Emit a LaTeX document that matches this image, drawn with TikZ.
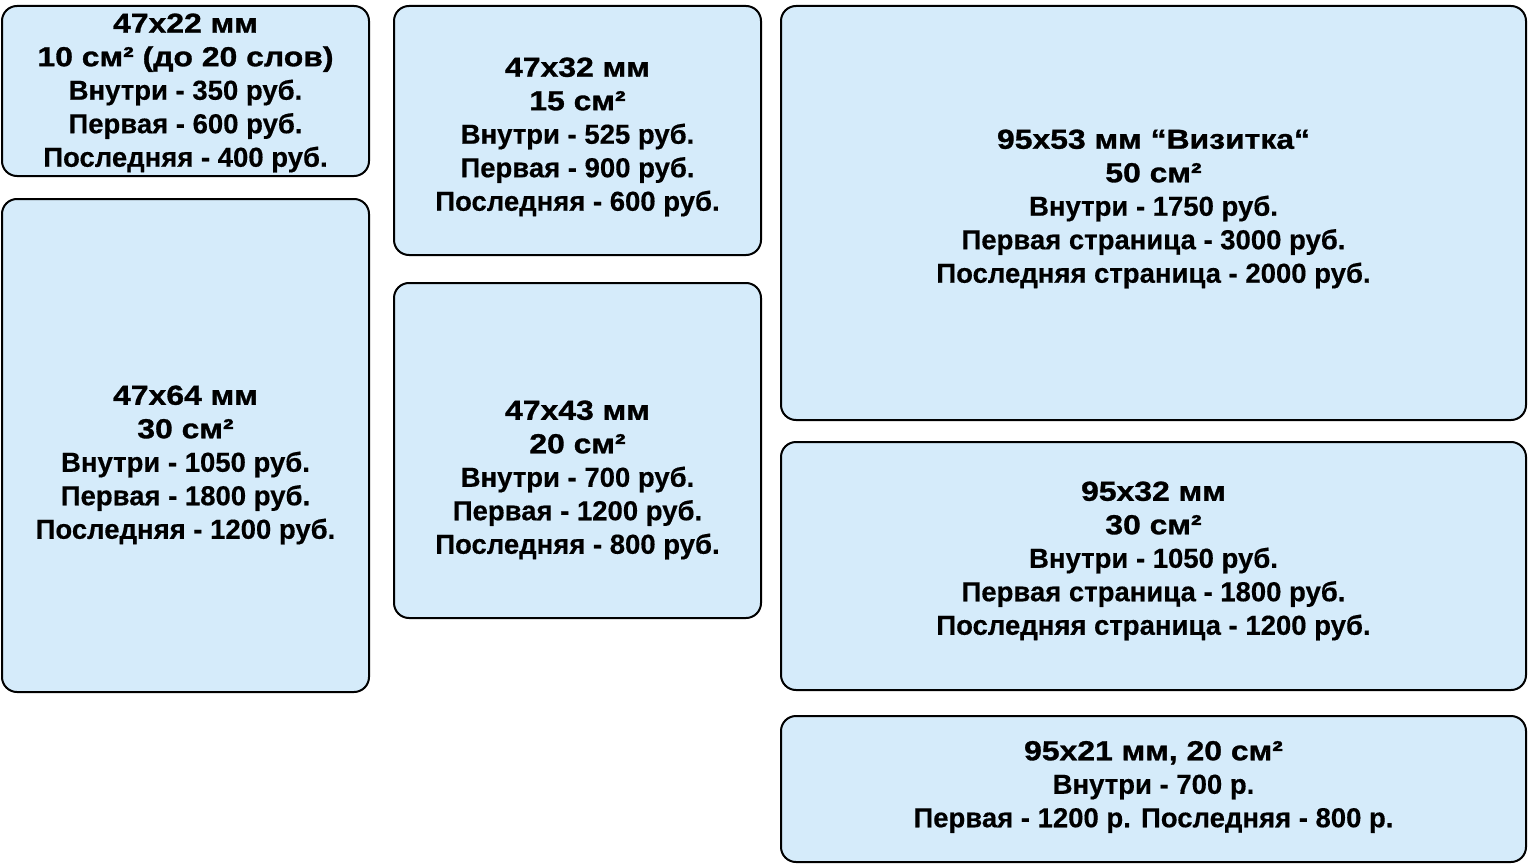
\documentclass[tikz,border=0pt]{standalone}
\usepackage{fontspec}
\setmainfont{Liberation Sans}
\newfontfamily\headfont[FakeStretch=1.16,FakeBold=1.1]{Liberation Sans Bold}
\newfontfamily\pricefont[FakeBold=0.4]{Liberation Sans Bold}
\usepackage{tikz}
\usetikzlibrary{positioning}
\definecolor{cardblue}{RGB}{213,235,250}

\begin{document}
\begin{tikzpicture}[x=1pt,y=-1pt,
	card/.style={draw=black,fill=cardblue,line width=2pt,rounded corners=15pt},
	price/.style={align=center,inner sep=0pt,font=\fontsize{27.5}{33.5}\pricefont},
	]
	\useasboundingbox (0,0) rectangle (1528,864);
	% Left column
	\draw[card] (2,6) rectangle (369,176);
	\draw[card] (2,199) rectangle (369,692);
	\coordinate []  (sizeA) at (185.5,93) ;
	\coordinate []  (sizeB) at (185.5,465) ;
	\node[price] (textA) at (sizeA) {{\headfont 47x22 мм}\\{\headfont 10 см² (до 20 слов)}\\Внутри - 350 руб.\\Первая - 600 руб.\\Последняя - 400 руб.};
	\node[price] (textB) at (sizeB) {{\headfont 47x64 мм}\\{\headfont 30 см²}\\Внутри - 1050 руб.\\Первая - 1800 руб.\\Последняя - 1200 руб.};
	% Middle column
	\draw[card] (394,6) rectangle (761,255);
	\draw[card] (394,283) rectangle (761,618);
	\coordinate []  (sizeC) at (577.5,137) ;
	\coordinate []  (sizeD) at (577.5,480) ;
	\node[price] (textC) at (sizeC) {{\headfont 47x32 мм}\\{\headfont 15 см²}\\Внутри - 525 руб.\\Первая - 900 руб.\\Последняя - 600 руб.};
	\node[price] (textD) at (sizeD) {{\headfont 47x43 мм}\\{\headfont 20 см²}\\Внутри - 700 руб.\\Первая - 1200 руб.\\Последняя - 800 руб.};
	% Right column (full width)
	\draw[card] (781,6) rectangle (1526,420);
	\draw[card] (781,442) rectangle (1526,690);
	\draw[card] (781,716) rectangle (1526,862);
	\coordinate []  (sizeE) at (1153.5,209) ;
	\coordinate []  (sizeF) at (1153.5,561) ;
	\coordinate []  (sizeG) at (1153.5,787) ;
	\node[price] (textE) at (sizeE) {{\headfont 95x53 мм “Визитка“}\\{\headfont 50 см²}\\Внутри - 1750 руб.\\Первая страница - 3000 руб.\\Последняя страница - 2000 руб.};
	\node[price] (textF) at (sizeF) {{\headfont 95x32 мм}\\{\headfont 30 см²}\\Внутри - 1050 руб.\\Первая страница - 1800 руб.\\Последняя страница - 1200 руб.};
	\node[price] (textG) at (sizeG) {{\headfont 95x21 мм, 20 см²}\\Внутри - 700 р.\\Первая - 1200 р. Последняя - 800 р.};
\end{tikzpicture}
\end{document}
